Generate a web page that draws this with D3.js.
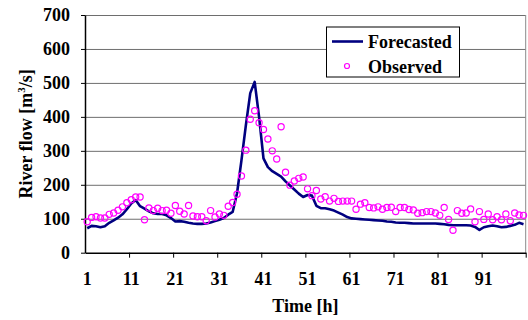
<!DOCTYPE html>
<html>
<head>
<meta charset="utf-8">
<script src="https://cdn.jsdelivr.net/npm/d3@7"></script>
<style>
  body { margin: 0; background: #fff; }
  text { font-family: "Liberation Serif", "Times New Roman", serif; font-weight: bold; }
</style>
</head>
<body>
<script>
'use strict';

// hourly categories and the two series
const hours = d3.range(1, 101);
const xTickLabels = [1, 11, 21, 31, 41, 51, 61, 71, 81, 91];
const yTicks = [0, 100, 200, 300, 400, 500, 600, 700];

const forecasted = [
  72, 79, 78, 75, 78, 88, 95, 103, 113, 128,
  145, 155, 137, 130, 122, 116, 114, 114, 110, 102,
  92, 93, 91, 88, 86, 85, 85, 86, 89, 93,
  97, 102, 112, 120, 175, 272, 375, 470, 503, 400,
  278, 252, 240, 232, 224, 210, 198, 186, 174, 164,
  170, 168, 138, 131, 131, 128, 124, 118, 112, 105,
  101, 100, 99, 98, 97, 96, 95, 94, 92, 91,
  89, 88, 88, 87, 86, 86, 86, 86, 86, 86,
  85, 84, 82, 81, 81, 81, 81, 80, 76, 67,
  75, 78, 80, 78, 75, 76, 79, 82, 88, 84
];

const observed = [
  91, 104, 106, 102, 102, 113, 117, 125, 135, 147,
  156, 164, 164, 97, 132, 124, 131, 124, 125, 116,
  139, 122, 114, 139, 108, 106, 106, 94, 124, 105,
  114, 110, 137, 148, 172, 226, 302, 393, 418, 383,
  363, 335, 300, 276, 371, 237, 199, 211, 219, 223,
  188, 168, 183, 158, 165, 152, 160, 151, 152, 152,
  152, 128, 143, 147, 133, 132, 135, 128, 133, 134,
  121, 133, 133, 127, 126, 116, 118, 121, 121, 117,
  110, 133, 98, 66, 124, 116, 117, 129, 91, 121,
  98, 114, 97, 106, 97, 114, 94, 117, 111, 110
];

(function() {

  let svgContainer = "";

  const m = {
    width: 528,
    height: 320,
    left: 85,
    right: 525.7,
    top: 15,
    bottom: 252.7
  };

  svgContainer = d3.select('body')
    .append('svg')
    .attr('width', m.width)
    .attr('height', m.height);

  let scales = drawAxes();
  plotData(scales);
  makeLegend();
  makeLabels();

  function drawAxes() {
    // band scale for categories, linear one for the boundaries between them
    let xBand = d3.scaleBand()
      .domain(hours)
      .range([m.left, m.right])
      .padding(0);

    let xEdge = d3.scaleLinear()
      .domain([0, hours.length])
      .range([m.left, m.right]);

    let yScale = d3.scaleLinear()
      .domain([0, 700])
      .range([m.bottom, m.top]);

    // grid lines
    svgContainer.append('g')
      .attr('transform', 'translate(' + m.left + ',0)')
      .call(d3.axisLeft(yScale).tickValues(yTicks.slice(1)).tickSize(-(m.right - m.left)).tickFormat(''))
      .call(g => g.select('.domain').remove())
      .call(g => g.selectAll('line').attr('stroke', '#6e6e6e').attr('stroke-width', 1));

    // right border of plot area
    svgContainer.append('line')
      .attr('x1', m.right).attr('x2', m.right)
      .attr('y1', m.top).attr('y2', m.bottom)
      .attr('stroke', '#8a8a8a');

    // y axis
    svgContainer.append('g')
      .attr('transform', 'translate(' + m.left + ',0)')
      .call(d3.axisLeft(yScale).tickValues(yTicks).tickSize(4).tickPadding(11).tickSizeOuter(0))
      .call(g => g.select('.domain').attr('stroke', '#000').attr('stroke-width', 1.5))
      .call(g => g.selectAll('text')
        .style('font-size', '18px')
        .attr('fill', '#000'));

    // x axis tick marks on category boundaries
    svgContainer.append('g')
      .attr('transform', 'translate(0,' + m.bottom + ')')
      .call(d3.axisBottom(xEdge).tickValues([10, 20, 30, 40, 50, 60, 70, 80, 90, 100]).tickSize(5).tickFormat('').tickSizeOuter(0))
      .call(g => g.select('.domain').attr('stroke', '#000').attr('stroke-width', 1.5));

    // x axis labels at category centres
    svgContainer.append('g')
      .attr('transform', 'translate(0,' + m.bottom + ')')
      .call(d3.axisBottom(xBand).tickValues(xTickLabels).tickSize(0).tickPadding(20))
      .call(g => g.select('.domain').remove())
      .call(g => g.selectAll('text')
        .style('font-size', '18px')
        .attr('fill', '#000'));

    return {
      x: (d) => xBand(d) + xBand.bandwidth() / 2,
      y: yScale
    };
  }

  function plotData(s) {
    let line = d3.line()
      .x((d, i) => s.x(hours[i]))
      .y((d) => s.y(d));

    svgContainer.append('path')
      .datum(forecasted)
      .attr('fill', 'none')
      .attr('stroke', '#000080')
      .attr('stroke-width', 2.6)
      .attr('stroke-linejoin', 'round')
      .attr('d', line);

    svgContainer.selectAll('.obs')
      .data(observed)
      .enter()
      .append('circle')
        .attr('class', 'obs')
        .attr('cx', (d, i) => s.x(hours[i]))
        .attr('cy', (d) => s.y(d))
        .attr('r', 3.1)
        .attr('fill', 'none')
        .attr('stroke', '#ff00ff')
        .attr('stroke-width', 1.2);
  }

  function makeLegend() {
    let lg = svgContainer.append('g');

    lg.append('rect')
      .attr('x', 326.5)
      .attr('y', 27)
      .attr('width', 133)
      .attr('height', 50)
      .attr('fill', '#fff')
      .attr('stroke', '#000')
      .attr('stroke-width', 1);

    lg.append('line')
      .attr('x1', 332).attr('x2', 363)
      .attr('y1', 41.5).attr('y2', 41.5)
      .attr('stroke', '#000080')
      .attr('stroke-width', 2.6);

    lg.append('circle')
      .attr('cx', 347)
      .attr('cy', 66)
      .attr('r', 2.5)
      .attr('fill', 'none')
      .attr('stroke', '#ff00ff')
      .attr('stroke-width', 1.2);

    lg.append('text')
      .attr('x', 368)
      .attr('y', 47.5)
      .style('font-size', '18px')
      .text('Forecasted');

    lg.append('text')
      .attr('x', 368)
      .attr('y', 72.5)
      .style('font-size', '18px')
      .text('Observed');
  }

  function makeLabels() {
    svgContainer.append('text')
      .attr('x', (m.left + m.right) / 2)
      .attr('y', 312)
      .attr('text-anchor', 'middle')
      .style('font-size', '18px')
      .text('Time [h]');

    let yTitle = svgContainer.append('text')
      .attr('transform', 'translate(32,' + ((m.top + m.bottom) / 2) + ')rotate(-90)')
      .attr('text-anchor', 'middle')
      .style('font-size', '18px');

    yTitle.append('tspan').text('River flow [m');
    yTitle.append('tspan')
      .attr('dy', -7)
      .style('font-size', '11px')
      .text('3');
    yTitle.append('tspan')
      .attr('dy', 7)
      .text('/s]');
  }

})();
</script>
</body>
</html>
